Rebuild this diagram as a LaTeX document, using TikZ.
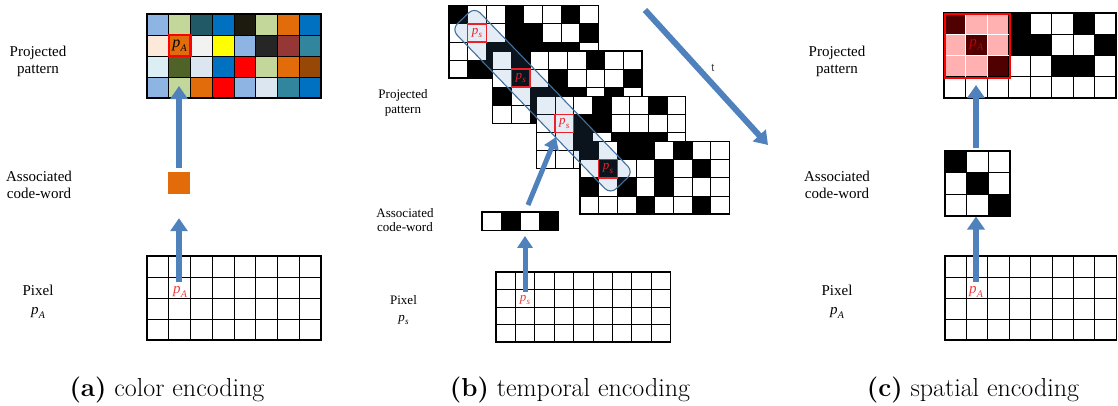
\documentclass[tikz,border=0pt]{standalone}
\usepackage{fontspec}
\newfontfamily\lab{Liberation Serif}
\newfontfamily\labsans{Liberation Sans}
\usetikzlibrary{arrows.meta}

% palette
\definecolor{arrowblue}{HTML}{4F81BD}
\definecolor{bandedge}{HTML}{41719C}
\definecolor{cLBlue}{HTML}{8DB4E2}
\definecolor{cLGreen}{HTML}{C4D79B}
\definecolor{cDTeal}{HTML}{215967}
\definecolor{cBlue}{HTML}{0070C0}
\definecolor{cNBlack}{HTML}{1D1B10}
\definecolor{cOrange}{HTML}{E26B0A}
\definecolor{cPeach}{HTML}{FDE9D9}
\definecolor{cLGrey}{HTML}{F2F2F2}
\definecolor{cYellow}{HTML}{FFFF00}
\definecolor{cDGrey}{HTML}{262626}
\definecolor{cDRed}{HTML}{953735}
\definecolor{cTeal}{HTML}{31859C}
\definecolor{cPale}{HTML}{DAEEF3}
\definecolor{cOlive}{HTML}{4F6228}
\definecolor{cLav}{HTML}{DCE6F1}
\definecolor{cRed}{HTML}{FF0000}
\definecolor{cBrown}{HTML}{974706}
\definecolor{cPink}{HTML}{FFB0B0}
\definecolor{cDark}{HTML}{500000}
\definecolor{cLabRed}{HTML}{C00000}
\definecolor{psred}{HTML}{E82228}
\definecolor{pixred}{HTML}{F03C3C}
\definecolor{tgrey}{HTML}{404040}

% italic p with a subscript: #1 index, #2 size of p, #3 size of index
\newcommand{\pidx}[3]{{\fontsize{#2}{#2}\selectfont\itshape p\kern0.2pt\raisebox{-0.28em}{\fontsize{#3}{#3}\selectfont #1}}}

% inner lines and frame of a table of cells: x0, y0, columns, rows, cell width, cell height
\newcommand{\gridlines}[6]{%
  \pgfmathtruncatemacro\gcl{#3-1}%
  \pgfmathtruncatemacro\grl{#4-1}%
  \ifnum\gcl>0
    \foreach \i in {1,...,\gcl} \draw[cellline] ({#1+\i*#5},#2) -- ({#1+\i*#5},{#2+#4*#6});
  \fi
  \ifnum\grl>0
    \foreach \j in {1,...,\grl} \draw[cellline] (#1,{#2+\j*#6}) -- ({#1+#3*#5},{#2+\j*#6});
  \fi
  \draw[gridframe] (#1,#2) rectangle ({#1+#3*#5},{#2+#4*#6});
}
% black cells from rows of 0/1: x0, y0, cell width, cell height, rows
\newcommand{\bitcells}[5]{%
  \foreach \rw [count=\r from 0] in {#5} {
    \foreach \bt [count=\c from 0] in \rw {
      \ifnum\bt=1 \fill[black] ({#1+\c*#3},{#2+\r*#4}) rectangle ++(#3,#4);\fi
    }
  }
}
% coloured cells from rows of colour names: x0, y0, cell width, cell height, rows
\newcommand{\colorcells}[5]{%
  \foreach \rw [count=\r from 0] in {#5} {
    \foreach \cc [count=\c from 0] in \rw {
      \fill[\cc] ({#1+\c*#3},{#2+\r*#4}) rectangle ++(#3,#4);
    }
  }
}

\tikzset{
  cellline/.style={draw=black, line width=0.8pt},
  gridframe/.style={draw=black, line width=1.4pt},
  bluearrow/.style={draw=arrowblue, line width=6pt, -{Triangle[width=17pt,length=13pt]}},
  thinarrow/.style={draw=arrowblue, line width=5pt, -{Triangle[width=15pt,length=12pt]}},
  lbl/.style={align=center, font=\lab\fontsize{15}{17}\selectfont},
  lblsmall/.style={align=center, font=\lab\fontsize{13}{14.5}\selectfont},
  captext/.style={anchor=base, font=\rmfamily\fontsize{26}{30}\selectfont},
  area/.style={inner sep=0pt, anchor=north west},
  psbox/.style={draw=psred, line width=1.5pt, minimum width=18.67pt, minimum height=18.1pt, inner sep=0pt, text=psred},
}

\begin{document}
\begin{tikzpicture}[x=1pt,y=-1pt, every node/.style={font=\lab}]
\useasboundingbox (0,0) rectangle (1118,405);

% ================= (a) colour encoding =================
\colorcells{147}{14}{21.75}{21}{{cLBlue,cLGreen,cDTeal,cBlue,cNBlack,cLGreen,cOrange,cBlue},{cPeach,cOrange,cLGrey,cYellow,cLBlue,cDGrey,cDRed,cTeal},{cPale,cOlive,cLav,cBlue,cRed,cLGreen,cOrange,cBrown},{cLBlue,cLGreen,cOrange,cRed,cLBlue,cLav,cTeal,cBlue}}
\gridlines{147}{14}{8}{4}{21.75}{21}
\node[area, minimum width=174pt, minimum height=84pt] (gridA) at (147,14) {};
\node[draw=cRed, line width=2.2pt, minimum width=21.75pt, minimum height=21pt, inner sep=0pt] (pAproj) at (179.6,45.5) {\pidx{A}{16}{10}};

\node[fill=cOrange, minimum size=22pt, inner sep=0pt] (cwA) at (179,183) {};

\fill[white] (147,256) rectangle ++(174,84);
\gridlines{147}{256}{8}{4}{21.75}{21}
\node[area, minimum width=174pt, minimum height=84pt] (pixA) at (147,256) {};
\node[text=pixred] (pApix) at (180,292) {\pidx{A}{15}{10}};

\coordinate (tipA1) at (179,86);
\coordinate (tailA2) at (179,282);
\draw[bluearrow] ([yshift=4pt]cwA.north) -- (tipA1);
\draw[bluearrow] (tailA2) -- ([yshift=-24pt]cwA.south);

\node[lbl] (labA1) at (38,61.5) {Projected\\pattern};
\node[lbl] (labA2) at (39,184.4) {Associated\\code-word};
\node[lbl] (labA3) at (38,302) {Pixel\\[2pt]\pidx{A}{15}{10}};

% ================= (b) temporal encoding =================
\fill[white] (449,5.7) rectangle ++(149.36,72.4);
\bitcells{449}{5.7}{18.67}{18.1}{{1,0,0,1,0,0,1,0},{0,0,0,1,1,0,0,1},{0,0,1,1,1,1,1,0},{0,1,1,0,0,0,0,0}}
\gridlines{449}{5.7}{8}{4}{18.67}{18.1}

\fill[white] (492.67,51) rectangle ++(149.36,72.4);
\bitcells{492.67}{51}{18.67}{18.1}{{0,1,0,0,0,1,0,0},{0,1,0,1,0,0,0,1},{1,0,1,1,1,0,1,0},{0,0,1,0,0,0,0,0}}
\gridlines{492.67}{51}{8}{4}{18.67}{18.1}

\fill[white] (536.33,96.3) rectangle ++(149.36,72.4);
\bitcells{536.33}{96.3}{18.67}{18.1}{{0,0,0,1,0,0,1,0},{0,0,1,1,0,0,0,0},{0,0,1,0,1,1,1,0},{0,0,0,0,0,0,0,0}}
\gridlines{536.33}{96.3}{8}{4}{18.67}{18.1}

\fill[white] (580,141.6) rectangle ++(149.36,72.4);
\bitcells{580}{141.6}{18.67}{18.1}{{1,0,1,1,0,1,0,0},{0,1,0,0,1,0,1,0},{1,0,1,0,1,0,0,0},{0,0,0,1,0,0,1,0}}
\gridlines{580}{141.6}{8}{4}{18.67}{18.1}

% band through the same pixel over time
\node[draw=bandedge, line width=1.1pt, fill=arrowblue, fill opacity=0.15, rounded corners=8pt,
      minimum width=229pt, minimum height=32pt, inner sep=0pt, rotate=-46.07] (band) at (542.5,100.7) {};

\node[psbox] (ps1) at (477,32.85) {\pidx{s}{13}{9}};
\node[psbox] (ps2) at (520.67,78.15) {\pidx{s}{13}{9}};
\node[psbox] (ps3) at (564.33,123.45) {\pidx{s}{13}{9}};
\node[psbox] (ps4) at (608,168.75) {\pidx{s}{13}{9}};

% code-word
\fill[white] (482,212) rectangle ++(76,18.5);
\bitcells{482}{212}{19}{18.5}{{0,1,0,1}}
\gridlines{482}{212}{4}{1}{19}{18.5}
\node[area, minimum width=76pt, minimum height=18.5pt] (cwB) at (482,212) {};

% pixel grid
\fill[white] (496,272) rectangle ++(174.6,70);
\gridlines{496}{272}{9}{4}{19.4}{17.5}
\node[area, minimum width=174.6pt, minimum height=70pt] (pixB) at (496,272) {};
\node[text=pixred] (psPix) at (525,300) {\pidx{s}{13}{9}};

\coordinate (tailB1) at (525,292);
\coordinate (tailB2) at (528,205);
\coordinate (tipB2) at (556,137);
\draw[thinarrow] (tailB1) -- ([yshift=-5pt]cwB.south -| tailB1);
\draw[thinarrow] (tailB2) -- (tipB2);

% time axis
\coordinate (tStart) at (645,10);
\coordinate (tEnd) at (768,145);
\draw[bluearrow] (tStart) -- (tEnd);
\node[font=\labsans\fontsize{11}{11}\selectfont, text=tgrey] (tlab) at (713,68) {t};

\node[lblsmall] (labB1) at (403,103) {Projected\\pattern};
\node[lblsmall] (labB2) at (405,219.8) {Associated\\code-word};
\node[lblsmall] (labB3) at (403.5,310.4) {Pixel\\[2pt]\pidx{s}{13}{9}};

% ================= (c) spatial encoding =================
\colorcells{944}{13}{21.5}{21.25}{{cDark,cPink,cPink,black,white,white,black,white},{cPink,cDark,cPink,black,black,white,white,black},{cPink,cPink,cDark,white,white,black,black,white},{white,white,white,white,white,white,white,white}}
\gridlines{944}{13}{8}{4}{21.5}{21.25}
\foreach \i in {1,2} {
  \draw[white, line width=0.7pt] ({944+\i*21.5},13) -- ({944+\i*21.5},76.75);
  \draw[white, line width=0.7pt] (944,{13+\i*21.25}) -- (1008.5,{13+\i*21.25});
}
\node[area, minimum width=172pt, minimum height=85pt] (gridC) at (944,13) {};
\node[area, draw=cRed, line width=2.2pt, minimum width=64.5pt, minimum height=63.75pt] (blockC) at (944,13) {};
\node[text=cLabRed] (pAproj3) at (976.25,44.9) {\pidx{A}{15}{10}};

\fill[white] (945,151) rectangle ++(65.1,65.1);
\bitcells{945}{151}{21.7}{21.7}{{1,0,0},{0,1,0},{0,0,1}}
\gridlines{945}{151}{3}{3}{21.7}{21.7}
\node[area, minimum width=65.1pt, minimum height=65.1pt] (cwC) at (945,151) {};

\fill[white] (945,256) rectangle ++(171.2,84);
\gridlines{945}{256}{8}{4}{21.4}{21}
\node[area, minimum width=171.2pt, minimum height=84pt] (pixC) at (945,256) {};
\node[text=pixred] (pCpix) at (976,292) {\pidx{A}{15}{10}};

\coordinate (tipC1) at (976,85);
\coordinate (tailC2) at (976,282);
\draw[bluearrow] ([yshift=3pt]cwC.north -| tipC1) -- (tipC1);
\draw[bluearrow] (tailC2) -- (cwC.south -| tailC2);

\node[lbl] (labC1) at (837,61.5) {Projected\\pattern};
\node[lbl] (labC2) at (837,184.4) {Associated\\code-word};
\node[lbl] (labC3) at (837,302) {Pixel\\[2pt]\pidx{A}{15}{10}};

% ================= captions =================
\node[captext] (capA) at (167,396) {\textbf{(a)} color encoding};
\node[captext] (capB) at (570,396) {\textbf{(b)} temporal encoding};
\node[captext] (capC) at (973,396) {\textbf{(c)} spatial encoding};
\end{tikzpicture}
\end{document}
